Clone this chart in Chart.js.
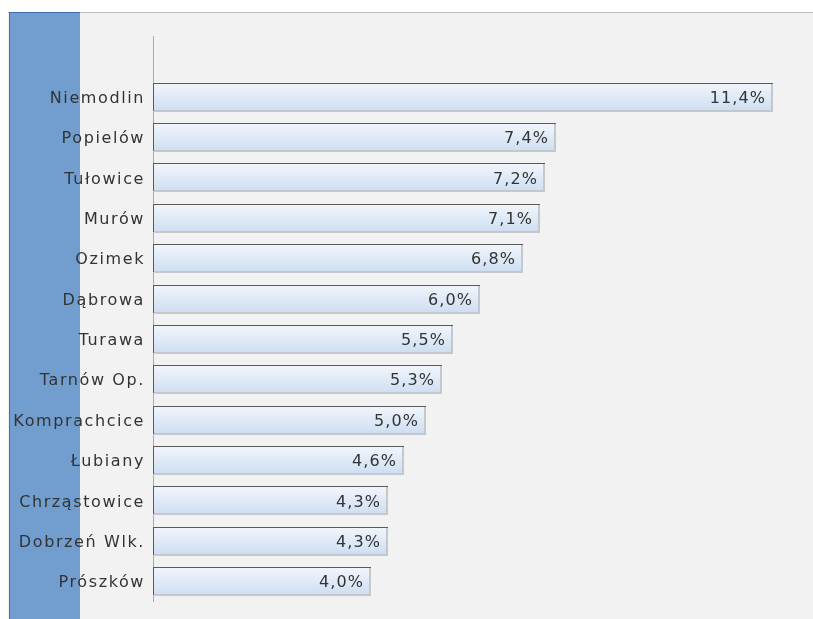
<!DOCTYPE html>
<html>
<head>
<meta charset="utf-8">
<script src="https://cdn.jsdelivr.net/npm/chart.js@4/dist/chart.umd.min.js"></script>
<style>
html,body{margin:0;padding:0;background:#fff;}
#wrap{width:813px;height:619px;position:relative;}
</style>
</head>
<body>
<div id="wrap"><canvas id="c" width="813" height="619"></canvas></div>
<script>
const categories = ['', 'Niemodlin', 'Popielów', 'Tułowice', 'Murów', 'Ozimek', 'Dąbrowa', 'Turawa', 'Tarnów Op.', 'Komprachcice', 'Łubiany', 'Chrząstowice', 'Dobrzeń Wlk.', 'Prószków'];
const values = [null, 11.4, 7.4, 7.2, 7.1, 6.8, 6.0, 5.5, 5.3, 5.0, 4.6, 4.3, 4.3, 4.0];
const axisMax = 12;

const FONT = 'DejaVu Sans';
const LABEL_SPACING = '1.6px';
const VALUE_SPACING = '1.1px';

const backgroundPlugin = {
  id: 'bg',
  beforeDraw(chart) {
    const ctx = chart.ctx;
    ctx.save();
    ctx.fillStyle = '#f2f2f2';
    ctx.fillRect(8, 12, 805, 607);
    ctx.fillStyle = '#bdbdbd';
    ctx.fillRect(8, 12, 805, 1);
    ctx.fillStyle = '#719ecf';
    ctx.fillRect(9, 12, 71, 607);
    ctx.fillStyle = '#3f6fae';
    ctx.fillRect(9, 12, 71, 1);
    ctx.fillRect(9, 12, 1, 607);
    ctx.restore();
    ctx.letterSpacing = LABEL_SPACING;
  }
};

const barDecor = {
  id: 'barDecor',
  afterDatasetsDraw(chart) {
    const ctx = chart.ctx;
    const meta = chart.getDatasetMeta(0);
    ctx.save();
    meta.data.forEach((el, i) => {
      if (values[i] == null) return;
      const p = el.getProps(['x', 'y', 'base', 'height'], true);
      const top = Math.round(p.y - p.height / 2);
      const bot = Math.round(p.y + p.height / 2);
      const left = Math.round(p.base);
      const right = Math.round(p.x);
      ctx.fillStyle = '#c4c8cc';
      ctx.fillRect(right - 1, top, 2, bot - top);
      ctx.fillRect(left, bot - 1, right - left + 1, 2);
      ctx.fillStyle = '#5a5a5a';
      ctx.fillRect(left, top, right - left + 1, 1);
      ctx.fillRect(left, top, 1, bot - top);
      ctx.letterSpacing = VALUE_SPACING;
      ctx.font = '16px "' + FONT + '"';
      ctx.fillStyle = '#333333';
      ctx.textAlign = 'right';
      ctx.textBaseline = 'middle';
      ctx.fillText(values[i].toFixed(1).replace('.', ',') + '%', right - 6, p.y + 2);
    });
    ctx.restore();
    ctx.letterSpacing = LABEL_SPACING;
  }
};

const chart = new Chart(document.getElementById('c'), {
  type: 'bar',
  data: {
    labels: categories,
    datasets: [{
      data: values,
      backgroundColor(c) {
        const y = c.chart.scales.y;
        const center = y ? y.getPixelForValue(c.dataIndex) : NaN;
        if (!isFinite(center)) return '#dde8f5';
        const h = 28;
        const g = c.chart.ctx.createLinearGradient(0, center - h / 2, 0, center + h / 2);
        g.addColorStop(0, '#f2f6fb');
        g.addColorStop(1, '#cddef2');
        return g;
      },
      borderWidth: 0,
      categoryPercentage: 1,
      barPercentage: 0.693
    }]
  },
  options: {
    indexAxis: 'y',
    responsive: false,
    animation: false,
    events: [],
    layout: { padding: { top: 36, bottom: 17, right: 8, left: 0 } },
    plugins: { legend: { display: false }, tooltip: { enabled: false } },
    scales: {
      x: { display: false, min: 0, max: axisMax },
      y: {
        grid: { display: false, drawTicks: false },
        border: { display: true, color: '#a8a8a8', width: 1 },
        ticks: {
          padding: 8,
          labelOffset: 2,
          color: '#333333',
          font: { family: FONT, size: 16 }
        },
        afterFit(s) { s.width = 153; }
      }
    }
  },
  plugins: [backgroundPlugin, barDecor]
});
</script>
</body>
</html>
